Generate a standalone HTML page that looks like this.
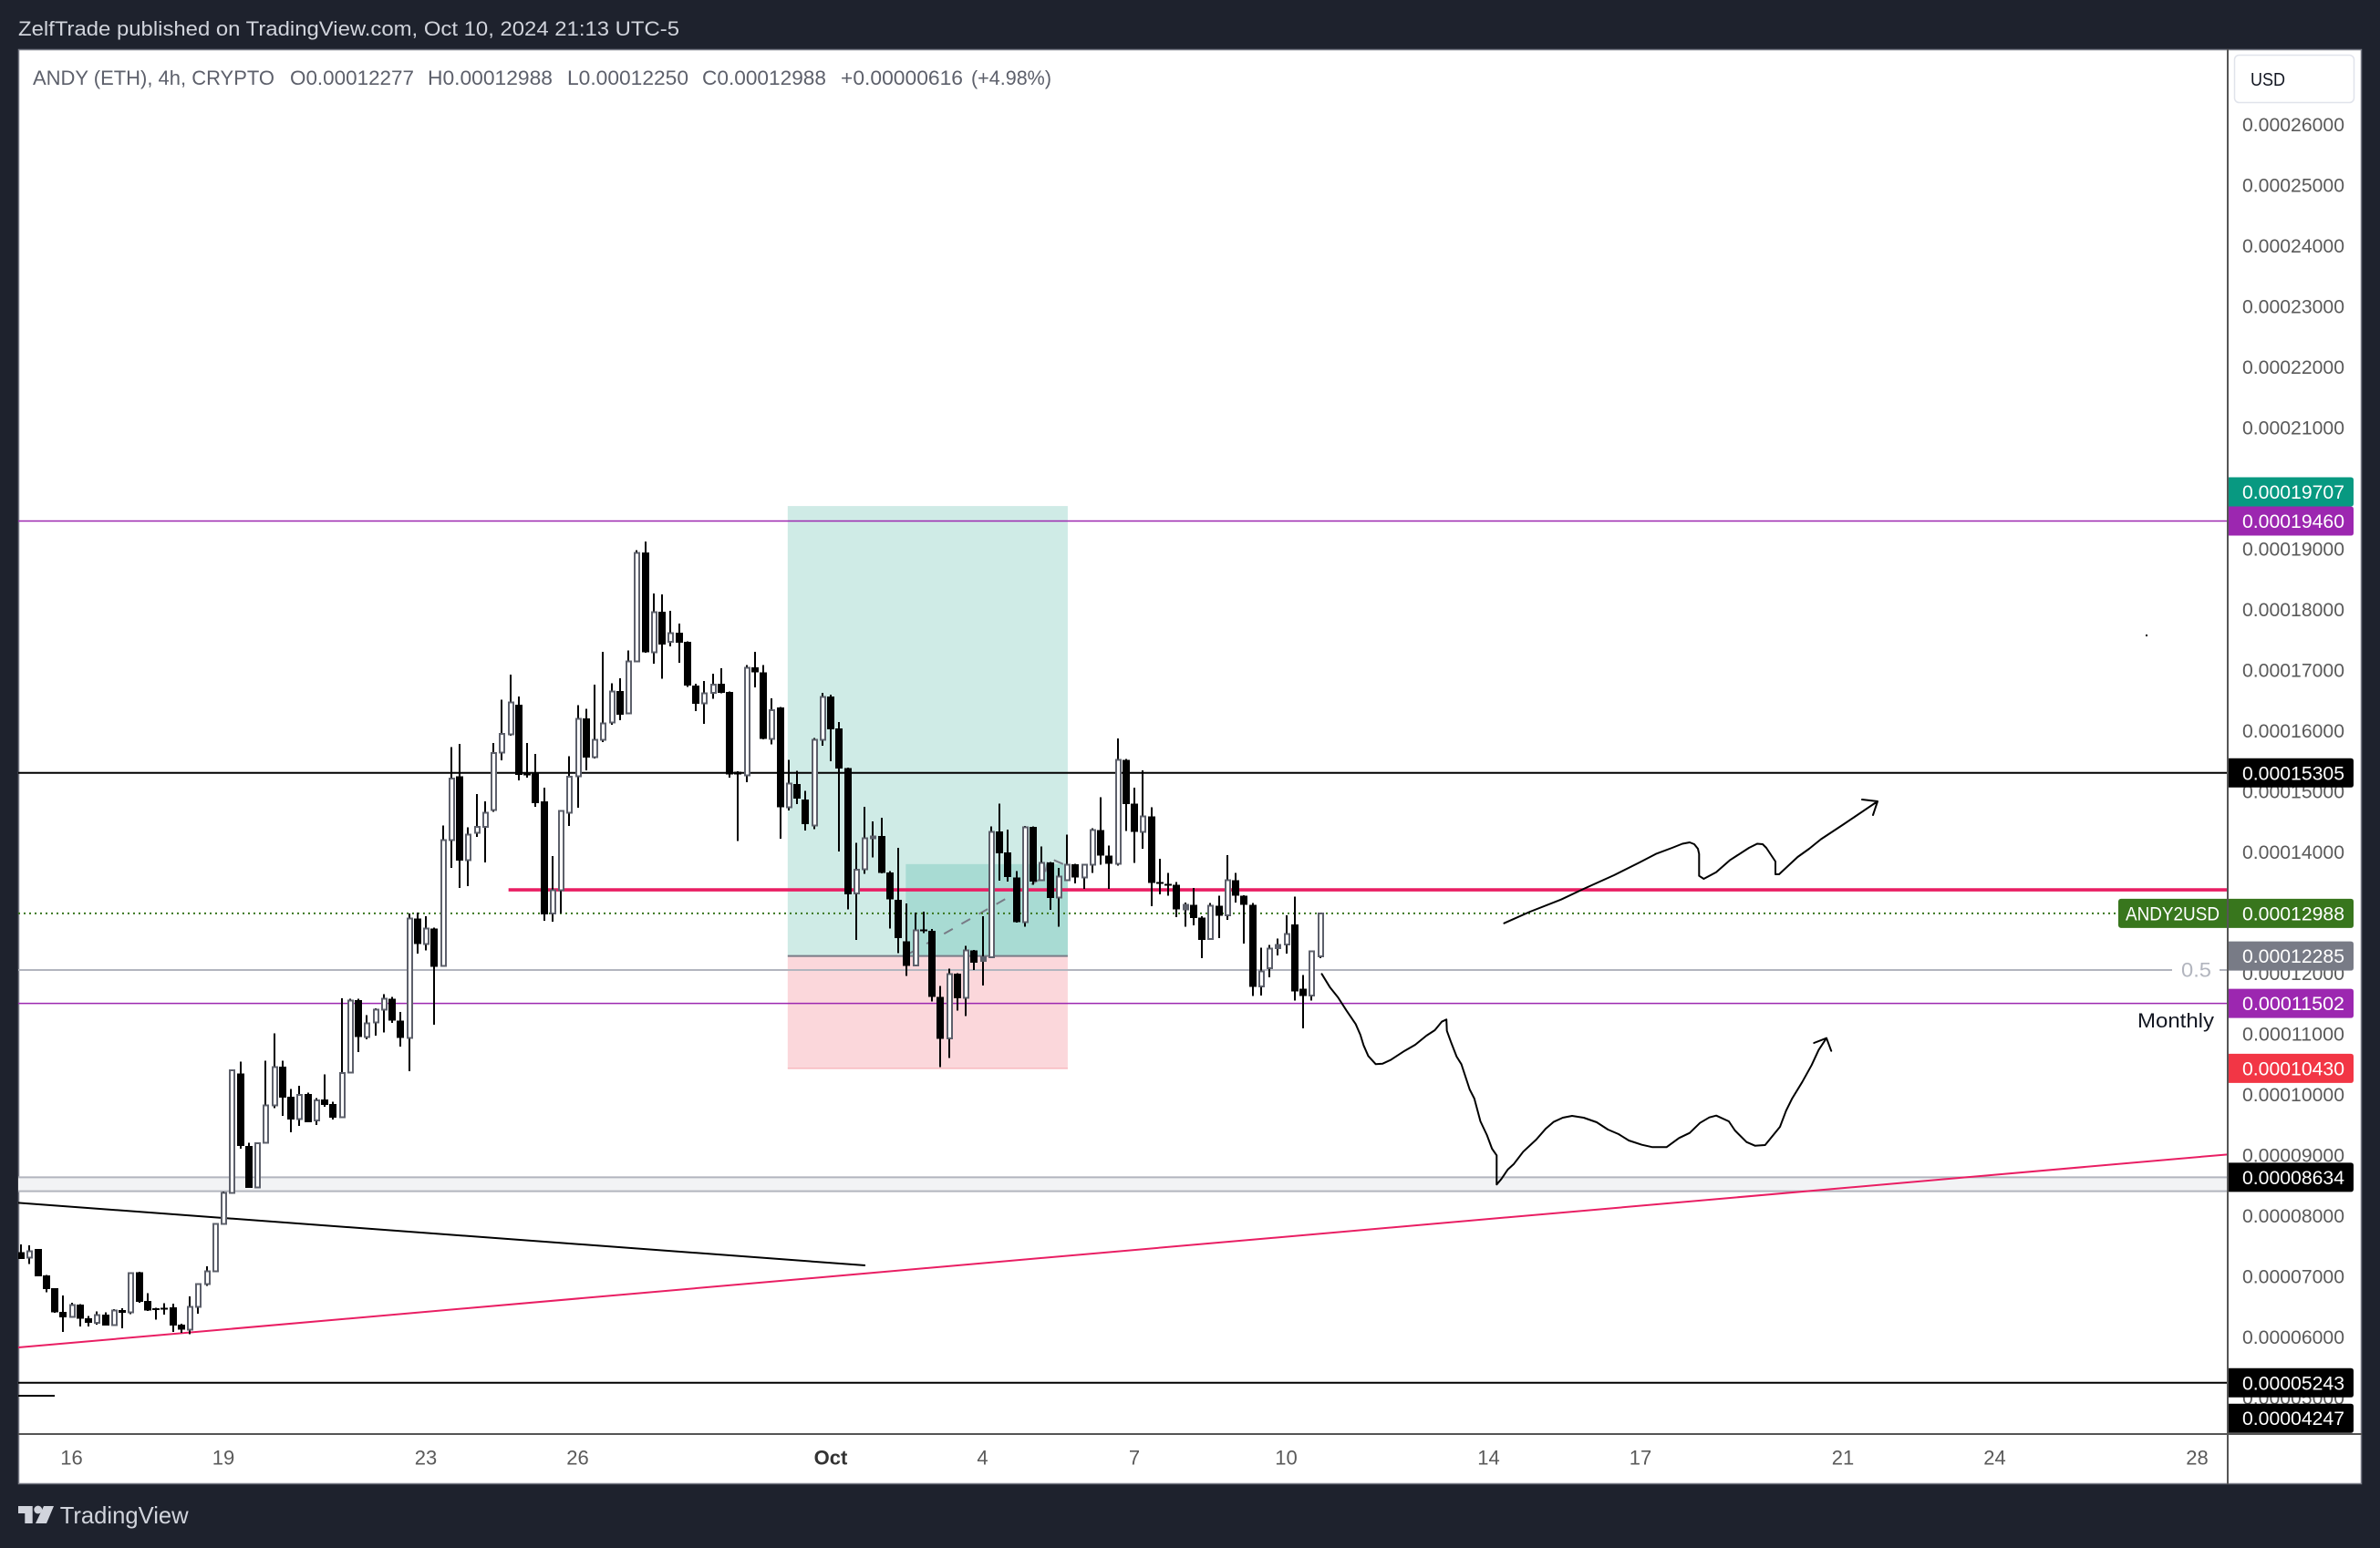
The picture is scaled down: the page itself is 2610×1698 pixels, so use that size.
<!DOCTYPE html>
<html lang="en">
<head>
<meta charset="utf-8">
<title>ANDY (ETH) 4h chart</title>
<style>
html,body{margin:0;padding:0;background:#1e222d;width:2610px;height:1698px;overflow:hidden}
svg{display:block}
text{font-family:"Liberation Sans","DejaVu Sans",sans-serif}
</style>
</head>
<body>
<svg id="chart" xmlns="http://www.w3.org/2000/svg" width="2610" height="1698" viewBox="0 0 2610 1698">
  <defs><clipPath id="plot-clip"><rect x="20" y="55" width="2423" height="1518"/></clipPath></defs>
  <rect x="0" y="0" width="2610" height="1698" fill="#1e222d"/>
  <text x="20" y="39" font-size="22" fill="#d1d4dc" textLength="725" lengthAdjust="spacingAndGlyphs">ZelfTrade published on TradingView.com, Oct 10, 2024 21:13 UTC-5</text>
  <rect x="20.5" y="54.5" width="2569" height="1573" fill="#ffffff" stroke="#787b86" stroke-width="1.5"/>

  <g id="plot" clip-path="url(#plot-clip)">
    <g id="drawings-under"></g>
    <path fill="none" stroke="#000" stroke-width="2" stroke-linejoin="round" stroke-linecap="round" d="M1449.5 1068.3L1458.7 1083.3L1467.3 1094L1476.5 1108.3L1486.7 1123.3L1491.8 1135L1495.4 1146.7L1500.5 1158.3L1508.7 1167.3L1516.3 1166.7L1525 1162.7L1540.3 1152.7L1552 1146L1564.3 1136L1573.5 1130L1581.1 1120.7L1586.2 1118.3L1586.7 1130.7L1591.3 1143.3L1597.4 1159L1602.6 1167.3L1611.7 1195L1616.8 1205L1623.5 1230L1630.6 1245L1636.2 1260L1641.3 1267.3L1641.3 1299.3L1646.4 1293.3L1653.6 1282.7L1660.2 1276.7L1670.4 1263.3L1684.7 1250L1694.9 1238.3L1703.6 1230.7L1713.8 1226L1724 1224L1736.7 1226L1751 1231L1763.3 1239L1775 1244L1786.2 1251L1800.5 1255.7L1812.2 1258.3L1827.6 1258.3L1841.3 1248.3L1853 1242.7L1864.3 1231.7L1874.5 1225.7L1882.1 1223.7L1895.9 1230L1902.6 1240L1915.3 1252.7L1924.5 1256.7L1935.7 1256L1952 1236L1958.7 1218.3L1965.3 1205L1976.5 1186.7L1986.7 1168.3L1994.4 1151.7L2003 1138.7M1989.3 1144L2003 1138.7L2008.2 1152.7"/>
    <path fill="none" stroke="#000" stroke-width="2" stroke-linejoin="round" stroke-linecap="round" d="M1649.5 1012.7L1678 1000L1712 986.7L1736.7 975L1770 960L1798 946L1815.8 936.7L1833.7 930L1845 925.5L1853 924L1858 926L1862 931L1863.3 936.7L1863.3 960.7L1868.4 964L1882 956.7L1897.4 943.3L1918 930L1927 925.5L1933 926L1937 930L1947 945L1947 959L1951 959L1971.4 940L1984 931L1997 920.5L2022 904L2059 879M2042 877L2059 879L2054 894"/>
    <rect x="2353" y="696" width="2" height="2" fill="#000"/>
    <g id="candles" shape-rendering="crispEdges"></g>
  </g>

  <line x1="20" y1="1573" x2="2590" y2="1573" stroke="#555" stroke-width="2"/>
  <g id="price-axis"></g>
  <g id="time-axis"></g>

  <text x="2392" y="1071.5" font-size="22" fill="#b2b5be" textLength="33" lengthAdjust="spacingAndGlyphs">0.5</text>
  <text x="2344" y="1127" font-size="22" fill="#131722" textLength="84" lengthAdjust="spacingAndGlyphs">Monthly</text>

  <g font-size="22" fill="#5d606b">
    <text x="36" y="93" textLength="265" lengthAdjust="spacingAndGlyphs">ANDY (ETH), 4h, CRYPTO</text>
    <text x="318" y="93" textLength="136" lengthAdjust="spacingAndGlyphs">O0.00012277</text>
    <text x="469" y="93" textLength="137" lengthAdjust="spacingAndGlyphs">H0.00012988</text>
    <text x="622" y="93" textLength="133" lengthAdjust="spacingAndGlyphs">L0.00012250</text>
    <text x="770" y="93" textLength="136" lengthAdjust="spacingAndGlyphs">C0.00012988</text>
    <text x="922" y="93" textLength="134" lengthAdjust="spacingAndGlyphs">+0.00000616</text>
    <text x="1065" y="93" textLength="88" lengthAdjust="spacingAndGlyphs">(+4.98%)</text>
  </g>

  <g>
    <rect x="2450.5" y="60.5" width="131" height="52" rx="5" fill="#fff" stroke="#e0e3eb" stroke-width="1.5"/>
    <text x="2468" y="94" font-size="20" fill="#131722" textLength="38" lengthAdjust="spacingAndGlyphs">USD</text>
  </g>

  <g>
    <path fill="#d1d4dc" d="M20 1652H35.7V1671H27.3V1660H20Z M48 1652H59L51 1671H39Z"/>
    <circle cx="41.7" cy="1656" r="4.4" fill="#d1d4dc"/>
    <text x="65.7" y="1671" font-size="26" fill="#d1d4dc" textLength="141" lengthAdjust="spacingAndGlyphs">TradingView</text>
  </g>
</svg>

<script>
// All prices in units of 1e-8 (12988 = 0.00012988)
const opens = [7401,7310,7450,7014,6803,6412,6333,6533,6307,6236,6367,6197,6443,6408,7064,6593,6473,6483,6488,6202,6122,6498,6874,7079,7867,
8378,10348,9150,8468,9205,9822,10458,9962,9596,10007,9571,9917,9842,9626,10363,11556,10950,11191,11401,11582,11221,10935,12905,12484,12740,
12123,14199,15251,13868,14319,14418,14689,15642,15943,16429,15297,15306,14835,12985,13371,14650,15251,16203,15567,15853,16139,16655,16289,17146,18941,
17297,17963,17467,17617,17467,16745,16455,16625,16775,16640,15321,15266,17046,16966,15862,16384,14740,15121,14865,14439,15853,16564,16038,15387,13316,
13717,14229,14263,13662,13211,12529,12128,12725,12699,11612,10924,11992,11591,12379,12207,12263,14339,13993,13582,12845,14414,13537,13827,13251,13537,
13797,13582,13787,14364,13943,13808,15522,14800,14334,14590,13507,13477,13462,13056,13131,12920,12564,13116,12955,13537,13281,13131,11782,12083,12413,12474,12804,11747,11631,12277];
const highs = [7525,7510,7450,7022,6803,6683,6563,6540,6348,6423,6408,6458,6473,7070,7074,6724,6483,6558,6548,6217,6668,6889,7164,7876,8402,
10413,10544,9205,9210,10559,11010,10559,10093,10142,10033,9942,10333,9882,11586,11576,11582,11311,11421,11651,11612,11361,12989,12999,12940,12749,
14439,15733,15782,14409,14955,14835,15797,16515,16925,16564,15797,15617,15060,13932,14695,15582,16425,16364,16760,17301,16786,16865,17327,18981,19121,
18264,18249,17978,17768,17475,16775,16820,16940,17031,16650,15331,17086,17301,17086,16534,16391,15522,15342,15011,15883,16625,16595,16143,15392,14154,
14745,14504,14564,13687,14068,13150,13000,13015,12729,11792,12078,11999,12454,12383,12940,14424,14800,14369,13687,14429,14421,14093,13835,13737,14289,
13807,13807,14388,14906,14108,15873,15537,15060,15346,14740,13887,13657,13507,13165,13406,12944,13161,13281,13947,13657,13286,13161,12424,12463,12574,12955,13266,11973,12361,12988];
const lows = [7285,7199,6999,6733,6397,6082,6330,6176,6172,6206,6191,6194,6146,6372,6567,6427,6282,6367,6082,6067,6041,6382,6838,7064,7852,
8367,9105,8458,8458,9199,9771,9646,9375,9481,9541,9496,9796,9586,9620,10357,10699,10909,10970,11019,11180,10789,10383,12323,12373,11150,
12113,13741,13406,13436,14248,13827,14659,15512,15922,15181,15230,14745,12865,12850,12985,14429,14730,15346,15546,15812,16098,16173,16274,17143,17286,
17110,16855,17392,17125,16725,16324,16113,16524,16617,15230,14178,15151,16715,15857,15772,14218,14684,14790,14354,14373,15752,15497,14008,13050,12553,
13636,13907,13647,12734,12328,11952,12120,12665,11531,10448,10598,11380,11290,12052,11801,12258,13526,13511,12835,12764,13456,13534,13045,12764,13534,
13481,13391,13651,13787,13391,13772,14343,13817,14053,13105,13301,13275,12925,12764,12789,12252,12556,12579,12880,13165,12489,11621,11631,11932,12293,12323,11546,11094,11546,12250];
const closes = [7289,7410,7003,6788,6402,6322,6528,6297,6232,6357,6191,6438,6397,7055,6578,6432,6453,6453,6191,6116,6492,6874,7079,7867,8378,
10398,9154,8462,9199,9816,10448,9947,9590,9996,9545,9906,9826,9616,10357,11546,10944,11170,11395,11576,11215,10929,12899,12478,12734,12102,
14193,15215,13857,14283,14418,14644,15636,15952,16470,15271,15271,14805,12974,13371,14674,15245,16193,15557,15847,16118,16644,16264,17141,18936,17291,
17953,17426,17607,17456,16745,16444,16614,16764,16625,15282,15282,17035,16960,15862,16343,14734,15125,14880,14463,15847,16554,16023,15376,13305,13711,
14223,14259,13651,13215,12583,12117,12704,12695,11606,10914,11982,11586,12373,12173,12263,14328,13978,13587,12839,14403,13511,13817,13241,13591,13787,
13576,13787,14358,13937,13802,15516,14794,14328,14584,13486,13486,13456,13050,13125,12914,12549,13110,12950,13531,13275,13125,11771,12027,12403,12463,12644,11696,11621,12358,12988];
const priceTicks = [26000,25000,24000,23000,22000,21000,19000,18000,17000,16000,15000,14000,12000,11000,10000,9000,8000,7000,6000,5000];
const timeLabels = ['16','19','23','26','Oct','4','7','10','14','17','21','24','28'];
const timeBars = [6,24,48,66,96,114,132,150,174,192,216,234,258];
const badgePrices = [19707,19460,15305,12988,12285,11502,10430,8634,5243,4247];
const badgeColors = ['#089981','#9c27b0','#000000','#38761d','#787b86','#9c27b0','#f23645','#000000','#000000','#000000'];
const levelPurple = [19460,11502];
const levelBlack = [15305,5243];
const levelCrimson = 13376;
const levelFib = 12053;
const bandPrices = [8634,8403];
const longPrices = [19707,12285,10430];
const longFilledTop = 13800;
const trendBlack = [[-0.35,8213],[100.1,7180]];
const trendPink = [[-0.35,5826],[261.6,9010]];
const shortBlack = [[-0.35,5029],[4,5029]];

const NS = 'http://www.w3.org/2000/svg';
function xf(i){ return 23 + 9.25 * i; }
function xs(i){ return Math.round(xf(i)); }
function y(p){ return 1200.5 - (p - 10000) / 15.04; }
function fmt(p){ return (p / 1e8).toFixed(8); }
function mk(parent, tag, attrs){
  const e = document.createElementNS(NS, tag);
  for (const k in attrs) e.setAttribute(k, attrs[k]);
  parent.appendChild(e);
  return e;
}
const under = document.getElementById('drawings-under');
const candlesG = document.getElementById('candles');
const axisG = document.getElementById('price-axis');
const timeG = document.getElementById('time-axis');
const lastClose = closes[closes.length - 1];
const X0 = 20, X1 = 2443;

// long position tool
{
  const lx = xf(90.9), rx = xf(124.1), lw = rx - lx;
  let e = mk(under, 'rect', {x:lx, y:y(longPrices[0]), width:lw, height:y(longPrices[1]) - y(longPrices[0]), fill:'#cfebe6'});
  
  
  e = mk(under, 'rect', {x:lx, y:y(longPrices[1]), width:lw, height:y(longPrices[2]) - y(longPrices[1]), fill:'#fbd7db'});
  
  
  const fx = xf(104.9);
  e = mk(under, 'rect', {x:fx, y:y(longFilledTop), width:rx - fx, height:y(longPrices[1]) - y(longFilledTop), fill:'#a8dbd3'});
  
  
  e = mk(under, 'line', {x1:lx, x2:rx, y1:y(longPrices[1]), y2:y(longPrices[1]), stroke:'#787b86', 'stroke-width':2});
  
  
  e = mk(under, 'line', {x1:lx, x2:rx, y1:y(longPrices[2]), y2:y(longPrices[2]), stroke:'#f7b9bf', 'stroke-width':1.5});
  
  
  e = mk(under, 'polyline', {points:'997,1046 1145,962 1150,941 1171,950', fill:'none', stroke:'#787b86', 'stroke-width':2, 'stroke-dasharray':'11 11'});
  
  
}

// band
{
  let e = mk(under, 'rect', {x:X0, y:y(bandPrices[0]), width:X1 - X0, height:y(bandPrices[1]) - y(bandPrices[0]), fill:'#f2f3f5'});
  
  
  for (const p of bandPrices) {
    const l = mk(under, 'line', {x1:X0, x2:X1, y1:y(p), y2:y(p), stroke:'#b2b5be', 'stroke-width':2});
    
    
  }
}

// levels
for (const p of levelPurple) {
  const l = mk(under, 'line', {x1:X0, x2:X1, y1:y(p), y2:y(p), stroke:'#9c27b0', 'stroke-width':1.5});
  
  
}
for (const p of levelBlack) {
  const l = mk(under, 'line', {x1:X0, x2:X1, y1:y(p), y2:y(p), stroke:'#000', 'stroke-width':2});
  
  
}
{
  let l = mk(under, 'line', {x1:X0, x2:2382, y1:y(levelFib), y2:y(levelFib), stroke:'#b2b5be', 'stroke-width':2});
  
  
  l = mk(under, 'line', {x1:2434, x2:X1, y1:y(levelFib), y2:y(levelFib), stroke:'#b2b5be', 'stroke-width':2});
  
  
  l = mk(under, 'line', {x1:xf(57.8), x2:X1, y1:y(levelCrimson), y2:y(levelCrimson), stroke:'#e91e63', 'stroke-width':3.6});
  
  
  l = mk(under, 'line', {x1:X0, x2:2323, y1:y(lastClose), y2:y(lastClose), stroke:'#38761d', 'stroke-width':2, 'stroke-dasharray':'2 4'});
  
  
  l = mk(under, 'line', {x1:xf(trendBlack[0][0]), y1:y(trendBlack[0][1]), x2:xf(trendBlack[1][0]), y2:y(trendBlack[1][1]), stroke:'#000', 'stroke-width':2});
  
  
  l = mk(under, 'line', {x1:xf(trendPink[0][0]), y1:y(trendPink[0][1]), x2:xf(trendPink[1][0]), y2:y(trendPink[1][1]), stroke:'#e91e63', 'stroke-width':2});
  
  
  l = mk(under, 'line', {x1:xf(shortBlack[0][0]), y1:y(shortBlack[0][1]), x2:xf(shortBlack[1][0]), y2:y(shortBlack[1][1]), stroke:'#000', 'stroke-width':2});
  
  
}

// candles
for (let i = 0; i < opens.length; i++) {
  const cx = xs(i);
  const up = closes[i] >= opens[i];
  const top = y(Math.max(opens[i], closes[i]));
  const bot = y(Math.min(opens[i], closes[i]));
  const w = mk(candlesG, 'rect', {x:cx - 1, y:y(highs[i]), width:2, height:Math.max(y(lows[i]) - y(highs[i]), 1), fill:'#000'});
  
  
  let b;
  if (up) {
    const h = bot - top;
    if (h < 5) {
      b = mk(candlesG, 'rect', {x:cx - 3, y:top - 1, width:7, height:Math.max(h + 2, 3), fill:'#5d606b'});
    } else {
      b = mk(candlesG, 'rect', {x:cx - 2, y:top, width:5, height:h, fill:'#fff', stroke:'#5d606b', 'stroke-width':2});
    }
  } else {
    b = mk(candlesG, 'rect', {x:cx - 4, y:top, width:8, height:Math.max(bot - top, 2), fill:'#000'});
  }
  
  
}

// ticks
for (const p of priceTicks) {
  const t = mk(axisG, 'text', {x:2459, y:y(p) + 7.5, 'font-size':21, fill:'#5a5a5a', textLength:112, lengthAdjust:'spacingAndGlyphs'});
  t.textContent = fmt(p);
  
  
}
{
  const yl = y(lastClose);
  const tag = mk(axisG, 'rect', {x:2323, y:yl - 16, width:122, height:32, rx:3, fill:'#38761d'});
  
  
  const tt = mk(axisG, 'text', {x:2331, y:yl + 7.5, 'font-size':21, fill:'#fff', textLength:103, lengthAdjust:'spacingAndGlyphs'});
  tt.textContent = 'ANDY2USD';
  
  
  const dv = mk(axisG, 'line', {x1:2443, x2:2443, y1:54, y2:1628, stroke:'#555', 'stroke-width':2});
  
  
}
// badges with collision stacking
{
  const centers = badgePrices.map(function(p){ return Math.min(y(p), 1555.7); });
  for (let i = centers.length - 2; i >= 0; i--) {
    if (centers[i] > centers[i + 1] - 32) centers[i] = centers[i + 1] - 32;
  }
  badgePrices.forEach(function(p, i){
    const c = centers[i];
    const r = mk(axisG, 'path', {d:'M2444 ' + (c - 16) + 'H2578Q2581 ' + (c - 16) + ' 2581 ' + (c - 13) + 'V' + (c + 13) + 'Q2581 ' + (c + 16) + ' 2578 ' + (c + 16) + 'H2444Z', fill:badgeColors[i]});
    
    
    const t = mk(axisG, 'text', {x:2459, y:c + 7.5, 'font-size':21, fill:'#fff', textLength:112, lengthAdjust:'spacingAndGlyphs'});
    t.textContent = fmt(p);
    
    
  });
}
// time ticks
timeLabels.forEach(function(lab, i){
  const t = mk(timeG, 'text', {x:xf(timeBars[i]), y:1606.5, 'font-size':22, 'text-anchor':'middle', fill:lab === 'Oct' ? '#333' : '#5a5a5a', 'font-weight':lab === 'Oct' ? 'bold' : 'normal'});
  t.textContent = lab;
  
  
});
</script>
</body>
</html>
